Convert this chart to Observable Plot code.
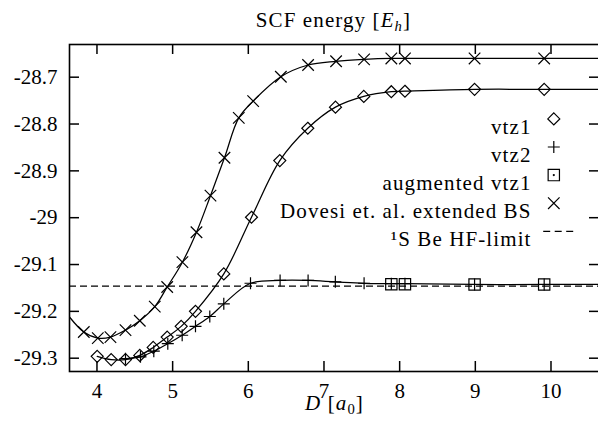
<!DOCTYPE html>
<html><head><meta charset="utf-8">
<script src="https://cdn.jsdelivr.net/npm/d3@7"></script>
<script src="https://cdn.jsdelivr.net/npm/@observablehq/plot@0.6"></script>
<style>
html,body{margin:0;padding:0;background:#fff;}
#wrap{width:598px;height:422px;overflow:hidden;font-family:"Liberation Serif",serif;color:#000;}
#title{height:28px;line-height:28px;padding-top:6px;padding-left:69px;text-align:center;font-size:21px;letter-spacing:1.1px;white-space:nowrap}
sub{font-size:70%;line-height:0;vertical-align:-0.25em}
#chart svg g[aria-label="text"] text{letter-spacing:1.1px}
</style></head><body>
<div id="wrap">
<div id="title">SCF energy [<i>E<sub>h</sub></i>]</div>
<div id="chart"></div>
</div>
<script>
// ---- data ----
const dovesiD = [3.826, 4.011, 4.178, 4.377, 4.566, 4.764, 4.928, 5.129, 5.315, 5.500, 5.685, 5.874, 6.064, 6.43, 6.79, 7.16, 7.53, 7.89, 8.07, 8.99, 9.91];
const dovesiE = [-29.244, -29.257, -29.255, -29.240, -29.220, -29.190, -29.148, -29.095, -29.031, -28.953, -28.872, -28.787, -28.751, -28.699, -28.674, -28.666, -28.662, -28.660, -28.660, -28.660, -28.660];
const dovesiLeftE = -29.212; // curve value where it meets the left frame

const vtz1D = [4.003, 4.188, 4.377, 4.566, 4.743, 4.928, 5.113, 5.302, 5.676, 6.042, 6.416, 6.786, 7.152, 7.526, 7.89, 8.07, 8.99, 9.91];
const vtz1E = [-29.296, -29.303, -29.303, -29.294, -29.277, -29.255, -29.232, -29.200, -29.120, -28.999, -28.878, -28.809, -28.764, -28.741, -28.731, -28.730, -28.726, -28.726];

const vtz2D = [4.377, 4.575, 4.751, 4.936, 5.126, 5.302, 5.491, 5.676, 6.029, 6.42, 6.79, 7.15, 7.53, 7.89, 8.07, 8.99, 9.91];
const vtz2E = [-29.301, -29.297, -29.285, -29.269, -29.251, -29.232, -29.211, -29.184, -29.140, -29.134, -29.134, -29.137, -29.140, -29.141, -29.141, -29.1426, -29.1426];

const augD = [7.89, 8.07, 8.99, 9.91];
const augE = [-29.142, -29.142, -29.1426, -29.1426];

const hfLimit = -29.146;

const xTicks = [4, 5, 6, 7, 8, 9, 10];
const yTicks = [-28.7, -28.8, -28.9, -29, -29.1, -29.2, -29.3];
const legendLabels = ["vtz1", "vtz2", "augmented vtz1", "Dovesi et. al. extended BS", "\u00B9S Be HF-limit"];
const xLabelParts = [["D", "i"], [" [", ""], ["a", "i"], ["0", "sub"], ["]", ""]];

// ---- layout ----
const W = 598, H = 388, mL = 69, mR = -1, mT = 10, mB = 51;
const pageTop = 34; // svg top on the page
const xDomain = [3.637, 10.641];
const yDomain = [-29.3284, -28.6302];
const pxX = (W - mR - mL) / (xDomain[1] - xDomain[0]);
const pxY = (H - mT - mB) / (yDomain[1] - yDomain[0]);
const tickLen = 10;
const tx = tickLen / pxX, ty = tickLen / pxY;

const rows = (D, E) => D.map((d, i) => ({D: d, E: E[i]}));
const dovesi = rows(dovesiD, dovesiE);
const vtz1 = rows(vtz1D, vtz1E);
const vtz2 = rows(vtz2D, vtz2E);
const aug = rows(augD, augE);

const dovesiLine = [{D: xDomain[0], E: dovesiLeftE}, ...dovesi, {D: xDomain[1], E: dovesiE[dovesiE.length - 1]}];
const vtz1Line = [...vtz1, {D: xDomain[1], E: vtz1E[vtz1E.length - 1]}];
const vtz2Line = [...vtz2, {D: xDomain[1], E: vtz2E[vtz2E.length - 1]}];

const ink = "#000";
const lineOpts = {x: "D", y: "E", curve: "catmull-rom", stroke: ink, strokeWidth: 1.25, clip: true};
const dotOpts = {x: "D", y: "E", stroke: ink, strokeWidth: 1.2, fill: "none"};
const sym = {vtz1: {symbol: "diamond2", r: 5.4}, vtz2: {symbol: "plus", r: 3.95}, aug: {symbol: "square2", r: 7.2}, dovesi: {symbol: "times", r: 5.3}};
const dashSym = {draw(ctx) { ctx.moveTo(-15.3, 0); ctx.lineTo(15.3, 0); }};

// legend geometry (page pixels)
const anchorX = W - mR, anchorY = pageTop + mT;
const legTextRight = 531, legSymX = 553.3, legBase0 = 125, legStep = 28.1;
const legendMarks = [];
legendLabels.forEach((label, i) => {
  const base = legBase0 + i * legStep;
  legendMarks.push(Plot.text([label], {text: d => d, frameAnchor: "top-right", textAnchor: "end",
    dx: legTextRight - anchorX, dy: base - 6.7 - anchorY, fill: ink, fontSize: 21}));
  const sdy = base - 6.6 - anchorY, sdx = legSymX - anchorX;
  const common = {frameAnchor: "top-right", dx: sdx, dy: sdy, stroke: ink, strokeWidth: 1.2, fill: "none"};
  if (i === 0) legendMarks.push(Plot.dot([label], {...common, ...sym.vtz1}));
  if (i === 1) legendMarks.push(Plot.dot([label], {...common, ...sym.vtz2}));
  if (i === 2) {
    legendMarks.push(Plot.dot([label], {...common, ...sym.aug}));
    legendMarks.push(Plot.dot([label], {frameAnchor: "top-right", dx: sdx, dy: sdy, r: 1.1, fill: ink}));
  }
  if (i === 3) legendMarks.push(Plot.dot([label], {...common, ...sym.dovesi}));
  if (i === 4) legendMarks.push(Plot.dot([label], {...common, dx: 558 - anchorX, symbol: dashSym, r: 5, strokeDasharray: "7,4.5"}));
});

// x-axis title, centred under the frame, baseline at page y 416
const frameBottomPage = pageTop + H - mB;
const xLabelText = xLabelParts.map(p => p[0]).join("");
const xLabelMark = Plot.text([xLabelText], {text: d => d, frameAnchor: "bottom", dy: 416 - 6.7 - frameBottomPage, fill: ink, fontSize: 21});

const chart = Plot.plot({
  width: W, height: H,
  marginLeft: mL, marginRight: mR, marginTop: mT, marginBottom: mB,
  style: {fontFamily: "'Liberation Serif', serif", fontSize: "21px", background: "#fff", color: ink},
  x: {domain: xDomain},
  y: {domain: yDomain},
  marks: [
    Plot.ruleY([hfLimit], {stroke: ink, strokeWidth: 1.25, strokeDasharray: "7,4"}),
    Plot.line(dovesiLine, lineOpts),
    Plot.line(vtz1Line, lineOpts),
    Plot.line(vtz2Line, lineOpts),
    Plot.dot(vtz1, {...dotOpts, ...sym.vtz1}),
    Plot.dot(vtz2, {...dotOpts, ...sym.vtz2}),
    Plot.dot(aug, {...dotOpts, ...sym.aug}),
    Plot.dot(dovesi, {...dotOpts, ...sym.dovesi}),
    Plot.frame({stroke: ink, strokeWidth: 1.6}),
    Plot.ruleY(yTicks, {x1: xDomain[0], x2: xDomain[0] + tx, stroke: ink, strokeWidth: 1.5}),
    Plot.ruleY(yTicks, {x1: xDomain[1] - tx, x2: xDomain[1], stroke: ink, strokeWidth: 1.5}),
    Plot.ruleX(xTicks, {y1: yDomain[0], y2: yDomain[0] + ty, stroke: ink, strokeWidth: 1.5}),
    Plot.ruleX(xTicks, {y1: yDomain[1] - ty, y2: yDomain[1], stroke: ink, strokeWidth: 1.5}),
    Plot.axisX(xTicks, {anchor: "bottom", tickSize: 0, tickPadding: 12, tickFormat: d => String(d), label: null, fontSize: 21}),
    Plot.axisY(yTicks, {anchor: "left", tickSize: 0, tickPadding: 12, tickFormat: d => String(+d.toFixed(1)), label: null, fontSize: 21}),
    xLabelMark,
    ...legendMarks
  ]
});

// give the axis title its italic letters and subscript
const svgNS = "http://www.w3.org/2000/svg";
chart.querySelectorAll("text").forEach(t => {
  if (t.textContent !== xLabelText) return;
  t.textContent = "";
  let shifted = false;
  xLabelParts.forEach(([s, kind]) => {
    const ts = document.createElementNS(svgNS, "tspan");
    ts.textContent = s;
    if (kind === "i") ts.setAttribute("font-style", "italic");
    if (kind === "sub") { ts.setAttribute("font-size", "14.7"); ts.setAttribute("dy", "4"); shifted = true; }
    else if (shifted) { ts.setAttribute("dy", "-4"); shifted = false; }
    t.appendChild(ts);
  });
});
document.getElementById("chart").appendChild(chart);
</script>
</body></html>
